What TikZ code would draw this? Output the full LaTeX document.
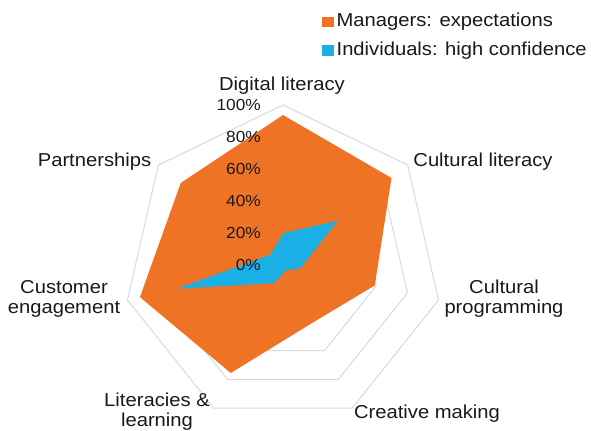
\documentclass[tikz,border=0pt]{standalone}
\usepackage{fontspec}
\setmainfont{Liberation Sans}[FakeStretch=1.08]
\usepackage{xcolor}
\usetikzlibrary{positioning,calc}
\definecolor{mgrorange}{HTML}{EE7325}
\definecolor{indblue}{HTML}{1AAFE5}
\definecolor{gridgray}{HTML}{D9D9D9}

\begin{document}
\begin{tikzpicture}[
    x=1bp, y=1bp,
    ring/.style={draw=gridgray, line width=1bp},
    lbl/.style={font=\fontsize{18.7bp}{20bp}\selectfont, text=black!90, inner sep=0pt, align=center},
    ticklbl/.style={font=\fontsize{16bp}{18bp}\selectfont, text=black!90, inner sep=0pt, anchor=east},
    legkey/.style={minimum width=11.5bp, minimum height=10.5bp, inner sep=0pt}
]
\useasboundingbox (0,0) rectangle (591,430);
\coordinate (c) at (283,165.5);

% grid rings, 20% apart
\foreach \r in {1,...,5}
    \draw[ring] ($(c)+(90:{\r*31.9})$) \foreach \k in {1,...,6} { -- ($(c)+({90-\k*360/7}:{\r*31.9})$) } -- cycle;

% data points
\foreach \v [count=\i] in {93.7,87,59,41,75.5,92,82}
    \coordinate (m\i) at ($(c)+({90-(\i-1)*360/7}:{\v*1.595})$);
\foreach \v [count=\i] in {19.6,44,11,4,13,68,10}
    \coordinate (p\i) at ($(c)+({90-(\i-1)*360/7}:{\v*1.595})$);

\fill[mgrorange] (m1) -- (m2) -- (m3) -- (m4) -- (m5) -- (m6) -- (m7) -- cycle;
\fill[indblue] (p1) -- (p2) -- (p3) -- (p4) -- (p5) -- (p6) -- (p7) -- cycle;

% scale
\foreach \k [evaluate=\k as \p using int(20*\k)] in {0,...,5}
    \node[ticklbl] (tk\k) at (261,{165.5+\k*31.9}) {\p\%};

% axis labels
\node[lbl, anchor=base] (dl) at (282,339.3) {Digital literacy};
\node[lbl, anchor=base] (cl) at (483,263.5) {Cultural literacy};
\node[lbl] (cp) at (504,131.2) {Cultural\\programming};
\node[lbl, anchor=base] (cm) at (427,11.7) {Creative making};
\node[lbl] (ll) at (157,18) {Literacies \&\\learning};
\node[lbl] (ce) at (64,130.7) {Customer\\engagement};
\node[lbl, anchor=base] (pa) at (94.5,263.3) {Partnerships};

% legend
\node[legkey, fill=mgrorange] (mkey) at (328,408.2) {};
\node[lbl, right=2.5bp of mkey] (mtxt) {Managers: expectations};
\node[legkey, fill=indblue] (ikey) at (328,379.7) {};
\node[lbl, right=2.5bp of ikey] (itxt) {Individuals: high confidence};
\end{tikzpicture}
\end{document}
